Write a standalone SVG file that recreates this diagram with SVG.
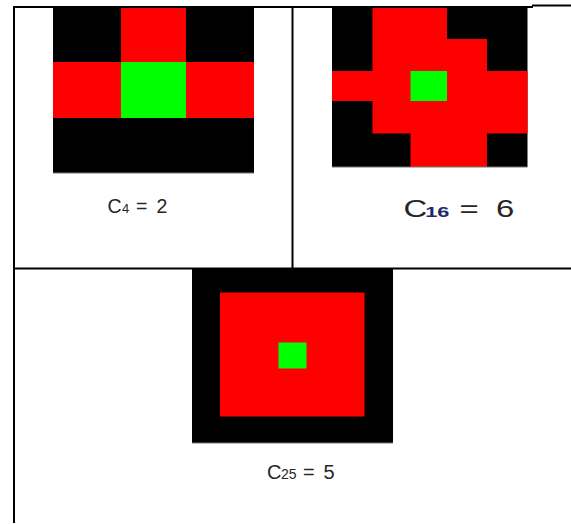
<svg xmlns="http://www.w3.org/2000/svg" width="571" height="524" viewBox="0 0 571 524">
<style>
.k{fill:#000}.r{fill:#ff0000}.g{fill:#00ff00}
.b{stroke:#000;stroke-width:2;fill:none}
.e{stroke:#777;stroke-width:1}
.t{font-family:"Liberation Sans",Arial,sans-serif;fill:#262626}
</style>
<rect width="571" height="524" fill="#fff"/>
<g id="cell-c4">
<rect class="k" x="53" y="7" width="201" height="166"/>
<rect class="r" x="121" y="7" width="65" height="55"/>
<rect class="r" x="53" y="62" width="201" height="56"/>
<rect class="g" x="121" y="62" width="65" height="56"/>
<line class="e" x1="53" y1="173" x2="254" y2="173"/>
<text class="t" y="213" font-size="19.5"><tspan x="107.5">C</tspan><tspan x="122" font-size="13">4</tspan><tspan x="136">=</tspan><tspan x="156.5">2</tspan></text>
</g>
<g id="cell-c16">
<rect class="k" x="332" y="7" width="195.5" height="160"/>
<rect class="r" x="372.5" y="7" width="74.5" height="32"/>
<rect class="r" x="372.5" y="39" width="114.5" height="32"/>
<rect class="r" x="332" y="71" width="195.5" height="30"/>
<rect class="g" x="410.5" y="71" width="36.5" height="30"/>
<rect class="r" x="372.5" y="101" width="155" height="32.5"/>
<rect class="r" x="410.5" y="133" width="76.5" height="34"/>
<line class="e" x1="332" y1="167" x2="527.5" y2="167"/>
<text class="t" font-size="23.5" transform="translate(403.5,217) scale(1.4,1)"><tspan x="0">C</tspan><tspan x="15.5" font-size="15.5" font-weight="bold" fill="#1f2a6b">16</tspan><tspan x="40">=</tspan><tspan x="66">6</tspan></text>
</g>
<g id="cell-c25">
<rect class="k" x="192" y="269" width="201" height="174"/>
<rect class="r" x="220" y="292.5" width="144.5" height="124"/>
<rect class="g" x="278.5" y="342.5" width="28" height="26"/>
<line class="e" x1="192" y1="443" x2="393" y2="443"/>
<text class="t" y="479" font-size="20"><tspan x="267">C</tspan><tspan x="281" font-size="14">25</tspan><tspan x="303">=</tspan><tspan x="323.5">5</tspan></text>
</g>
<g id="table-borders">
<line class="b" x1="14" y1="6" x2="14" y2="523"/>
<line class="b" x1="13" y1="7" x2="533" y2="7"/>
<line class="b" x1="532" y1="5.5" x2="571" y2="5.5"/>
<line class="b" x1="292.5" y1="7" x2="292.5" y2="268"/>
<line class="b" x1="14" y1="268.5" x2="571" y2="268.5"/>
</g>
</svg>
